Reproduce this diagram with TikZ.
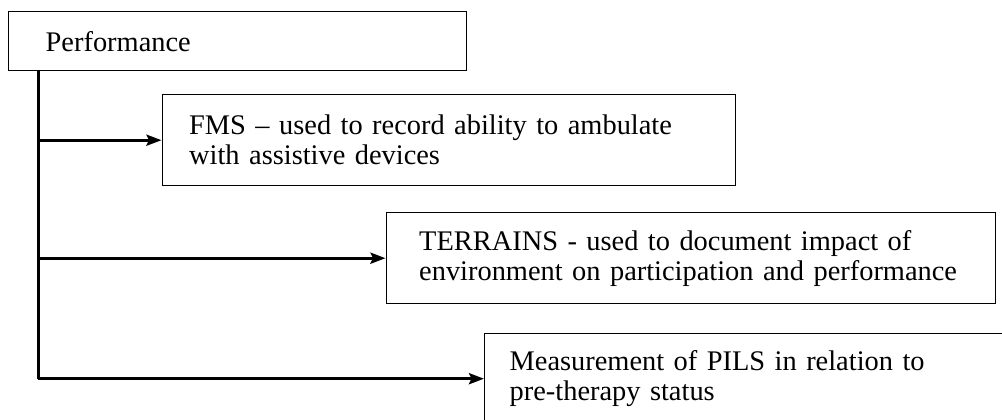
\documentclass[tikz,border=0pt]{standalone}
\usepackage{fontspec}
\setmainfont{Liberation Serif}
\usetikzlibrary{arrows.meta}
\begin{document}
\begin{tikzpicture}[x=1pt,y=-1pt,
  box/.style={draw=black,line width=1.4pt,rectangle,anchor=north west,align=left,
    font=\fontsize{28.4}{30}\selectfont,inner ysep=0pt},
  conn/.style={line width=3pt},
  arr/.style={conn,-{Stealth[length=15pt,width=11pt,inset=2.5pt]}}]
\useasboundingbox (0,0) rectangle (1002,420);
\begin{scope}
\clip (0,0) rectangle (1002,420);
\node[box,minimum width=458pt,minimum height=59pt,inner xsep=37pt,text width=384pt] (perf) at (8,11) {Performance};
\node[box,minimum width=573pt,minimum height=91pt,inner xsep=27pt,text width=519pt] (fms) at (161.5,94) {FMS – used to record ability to ambulate\\with assistive devices};
\node[box,minimum width=609pt,minimum height=91pt,inner xsep=33pt,text width=543pt] (ter) at (385.5,212) {TERRAINS - used to document impact of\\environment on participation and performance};
\node[box,minimum width=540pt,minimum height=91pt,inner xsep=25pt,text width=490pt] (meas) at (484,332.5) {Measurement of PILS in relation to\\pre-therapy status};
\end{scope}
\coordinate (v) at (38,70);
\draw[conn] (v) -- (v |- meas.west);
\draw[arr] (v |- meas.west) -- (meas.west);
\draw[arr] (v |- fms.west) -- (fms.west);
\draw[arr] (v |- ter.west) -- (ter.west);
\end{tikzpicture}
\end{document}
